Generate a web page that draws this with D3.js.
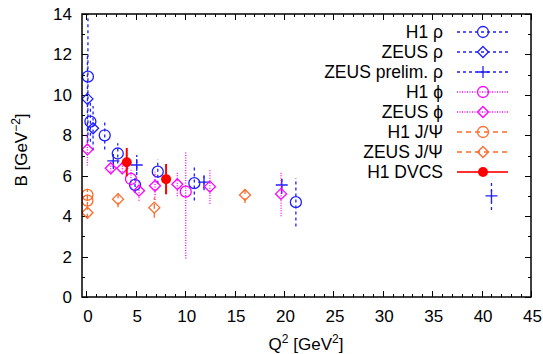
<!DOCTYPE html>
<html>
<head>
<meta charset="utf-8">
<script src="https://cdn.jsdelivr.net/npm/d3@7"></script>
<style>
  body { margin: 0; background: #fff; }
  text { font-family: "Liberation Sans", Arial, sans-serif; fill: #000; }
</style>
</head>
<body>
<svg id="chart" width="543" height="354"></svg>
<script>
// data (Q2 in GeV^2, B in GeV^-2, symmetric errors unless lo/hi given)
const h1RhoQ2   = [0.15, 0.4, 1.85, 3.17, 4.92, 7.22, 10.92, 21.2];
const h1RhoB    = [10.9, 8.68, 8.0, 7.1, 5.55, 6.2, 5.63, 4.69];
const h1RhoErr  = [3.2, 1.0, 0.7, 0.5, 0.4, 0.6, 0.85, 1.2];

const zeusRhoQ2  = [0.1, 0.67];
const zeusRhoB   = [9.8, 8.35];
const zeusRhoErr = [2.2, 1.1];

const zeusPrelimQ2  = [2.72, 5.09, 11.9, 19.77, 41.0];
const zeusPrelimB   = [6.73, 6.53, 5.68, 5.54, 5.0];
const zeusPrelimErr = [0.4, 0.5, 0.4, 0.45, 0.7];

const h1PhiQ2    = [4.51, 10.05];
const h1PhiB     = [5.84, 5.21];
const h1PhiErrLo = [0.45, 3.3];
const h1PhiErrHi = [0.45, 2.0];

const zeusPhiQ2  = [0.1, 2.46, 3.63, 5.32, 6.94, 9.2, 12.5, 19.7];
const zeusPhiB   = [7.3, 6.37, 6.37, 5.26, 5.5, 5.58, 5.46, 5.1];
const zeusPhiErr = [0.8, 0.3, 0.3, 0.5, 0.7, 0.6, 0.85, 1.1];

const h1JpsiQ2  = [0.1, 0.1];
const h1JpsiB   = [5.05, 4.77];
const h1JpsiErr = [0.3, 0.3];

const zeusJpsiQ2  = [0.1, 3.2, 6.87, 16.05];
const zeusJpsiB   = [4.17, 4.84, 4.42, 5.05];
const zeusJpsiErr = [0.3, 0.4, 0.5, 0.4];

const dvcsQ2  = [4.08, 8.06];
const dvcsB   = [6.67, 5.83];
const dvcsErr = [0.7, 0.75];

const xTicks = d3.range(0, 46, 5);
const yTicks = d3.range(0, 15, 2);

const blue = "#1f1fff", magenta = "#ff00ff", orange = "#ff6a2a", red = "#ff0000";

function pts(q2, b, lo, hi) {
  return q2.map((q, i) => ({ q2: q, b: b[i], lo: lo[i], hi: (hi || lo)[i] }));
}

const series = [
  { name: "H1 ρ",            data: pts(h1RhoQ2, h1RhoB, h1RhoErr),               color: blue,    dash: "3,3", marker: "circle" },
  { name: "ZEUS ρ",          data: pts(zeusRhoQ2, zeusRhoB, zeusRhoErr),         color: blue,    dash: "3,3", marker: "diamond" },
  { name: "ZEUS prelim. ρ",  data: pts(zeusPrelimQ2, zeusPrelimB, zeusPrelimErr), color: blue,   dash: "3,3", marker: "plus" },
  { name: "H1 ϕ",            data: pts(h1PhiQ2, h1PhiB, h1PhiErrLo, h1PhiErrHi), color: magenta, dash: "1,1.5", marker: "circle" },
  { name: "ZEUS ϕ",          data: pts(zeusPhiQ2, zeusPhiB, zeusPhiErr),         color: magenta, dash: "1,1.5", marker: "diamond" },
  { name: "H1 J/Ψ",          data: pts(h1JpsiQ2, h1JpsiB, h1JpsiErr),            color: orange,  dash: "5,4", marker: "circle" },
  { name: "ZEUS J/Ψ",        data: pts(zeusJpsiQ2, zeusJpsiB, zeusJpsiErr),      color: orange,  dash: "5,4", marker: "diamond" },
  { name: "H1 DVCS",         data: pts(dvcsQ2, dvcsB, dvcsErr),                  color: red,     dash: null,  marker: "dot" }
];

const svg = d3.select("#chart");
const margin = { top: 14, right: 12, bottom: 57, left: 82 };
const W = 543, H = 354;
const width  = W - margin.left - margin.right;
const height = H - margin.top - margin.bottom;

const x = d3.scaleLinear().domain([-0.45, 45]).range([margin.left, margin.left + width]);
const y = d3.scaleLinear().domain([0, 14]).range([margin.top + height, margin.top]);

svg.append("defs").append("clipPath").attr("id", "plot-clip")
  .append("rect")
    .attr("x", margin.left).attr("y", margin.top)
    .attr("width", width).attr("height", height);

// ticks, mirrored on all four sides
const tickG = svg.append("g").attr("stroke", "#000").attr("stroke-width", 1);
d3.range(0, 46, 1).forEach(v => {
  const len = v % 5 === 0 ? 6 : 3;
  const px = Math.round(x(v)) + 0.5;
  tickG.append("line").attr("x1", px).attr("x2", px).attr("y1", y(0)).attr("y2", y(0) - len);
  tickG.append("line").attr("x1", px).attr("x2", px).attr("y1", y(14)).attr("y2", y(14) + len);
});
d3.range(0, 15, 1).forEach(v => {
  const len = v % 2 === 0 ? 6 : 3;
  const py = Math.round(y(v)) + 0.5;
  tickG.append("line").attr("x1", x.range()[0]).attr("x2", x.range()[0] + len).attr("y1", py).attr("y2", py);
  tickG.append("line").attr("x1", x.range()[1]).attr("x2", x.range()[1] - len).attr("y1", py).attr("y2", py);
});

// tick labels
svg.append("g").selectAll("text")
  .data(xTicks)
  .join("text")
    .attr("x", d => x(d) + 1.5)
    .attr("y", 322)
    .attr("text-anchor", "middle")
    .style("font-size", "17px")
    .text(d => d);
svg.append("g").selectAll("text")
  .data(yTicks)
  .join("text")
    .attr("x", 72)
    .attr("y", d => y(d) + 6)
    .attr("text-anchor", "end")
    .style("font-size", "17px")
    .text(d => d);

// markers
function drawMarker(g, m, cx, cy, color) {
  if (m === "circle") {
    g.append("circle").attr("cx", cx).attr("cy", cy).attr("r", 5.5)
      .attr("fill", "none").attr("stroke", color).attr("stroke-width", 1.3);
  } else if (m === "diamond") {
    const s = 5.5;
    g.append("path")
      .attr("d", `M${cx},${cy - s}L${cx + s},${cy}L${cx},${cy + s}L${cx - s},${cy}Z`)
      .attr("fill", "none").attr("stroke", color).attr("stroke-width", 1.3);
  } else if (m === "plus") {
    const s = 6;
    g.append("path")
      .attr("d", `M${cx - s},${cy}H${cx + s}M${cx},${cy - s}V${cy + s}`)
      .attr("fill", "none").attr("stroke", color).attr("stroke-width", 1.3);
  } else {
    g.append("circle").attr("cx", cx).attr("cy", cy).attr("r", 5)
      .attr("fill", color);
  }
}

// data points with error bars
const plotG = svg.append("g").attr("clip-path", "url(#plot-clip)");
series.forEach(s => {
  const g = plotG.append("g");
  s.data.forEach(d => {
    g.append("line")
      .attr("x1", x(d.q2)).attr("x2", x(d.q2))
      .attr("y1", y(d.b - d.lo)).attr("y2", y(d.b + d.hi))
      .attr("stroke", s.color)
      .attr("stroke-width", s.dash ? 1.3 : 2)
      .attr("stroke-dasharray", s.dash);
    drawMarker(g, s.marker, x(d.q2), y(d.b), s.color);
  });
});

// frame
svg.append("rect")
  .attr("x", margin.left).attr("y", margin.top)
  .attr("width", width).attr("height", height)
  .attr("fill", "none").attr("stroke", "#000").attr("stroke-width", 1.5);

// legend
const legendG = svg.append("g");
series.forEach((s, i) => {
  const ly = 32 + i * 20;
  legendG.append("text")
    .attr("x", 443).attr("y", ly + 6)
    .attr("text-anchor", "end")
    .style("font-size", "17.5px")
    .text(s.name);
  legendG.append("line")
    .attr("x1", 457).attr("x2", 508)
    .attr("y1", ly).attr("y2", ly)
    .attr("stroke", s.dash ? s.color : "#ff3030")
    .attr("stroke-width", s.dash ? 1.3 : 2)
    .attr("stroke-dasharray", s.dash);
  drawMarker(legendG, s.marker, 483, ly, s.color);
});

// axis labels
const yl = svg.append("text")
  .attr("transform", "translate(27,150) rotate(-90)")
  .attr("text-anchor", "middle")
  .style("font-size", "17px");
yl.append("tspan").text("B [GeV");
yl.append("tspan").attr("dy", -7).style("font-size", "12px").text("−2");
yl.append("tspan").attr("dy", 7).text("]");

const xl = svg.append("text")
  .attr("x", 306).attr("y", 350)
  .attr("text-anchor", "middle")
  .style("font-size", "17px");
xl.append("tspan").text("Q");
xl.append("tspan").attr("dy", -7).style("font-size", "12px").text("2");
xl.append("tspan").attr("dy", 7).text(" [GeV");
xl.append("tspan").attr("dy", -7).style("font-size", "12px").text("2");
xl.append("tspan").attr("dy", 7).text("]");
</script>
</body>
</html>
